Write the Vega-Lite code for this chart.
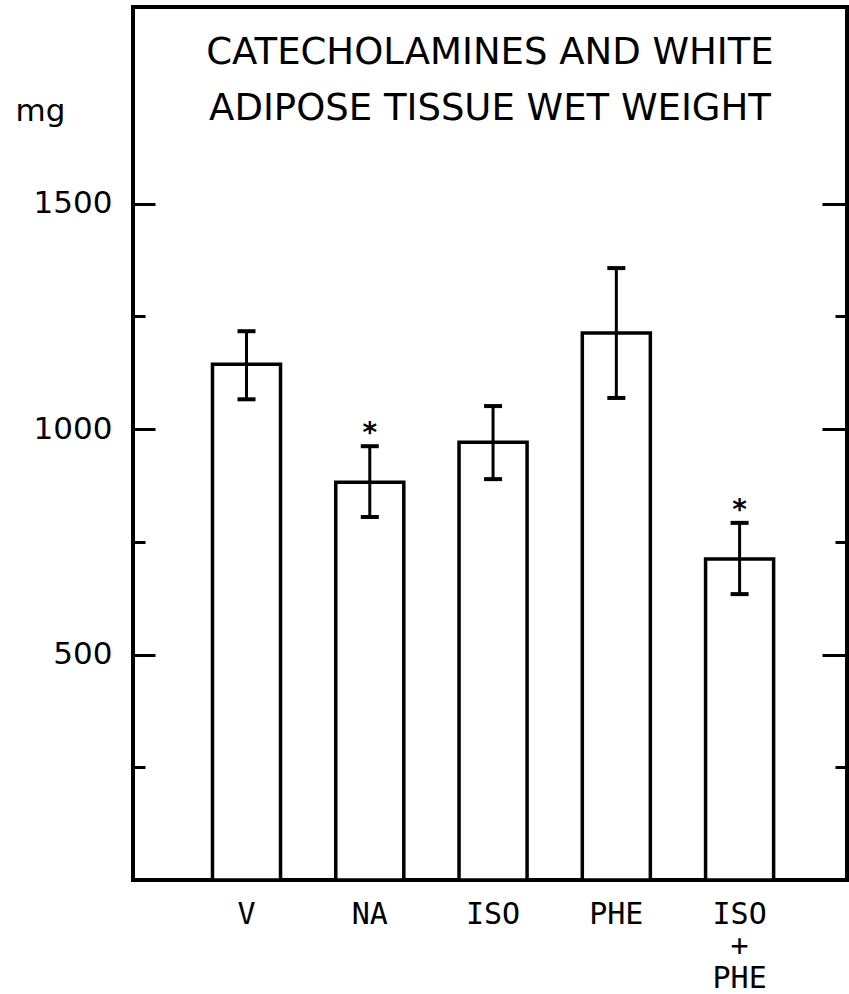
{
  "$schema": "https://vega.github.io/schema/vega-lite/v6.json",
  "width": 714,
  "height": 873,
  "autosize": {"type": "none"},
  "padding": {"left": 133, "top": 7, "right": 2, "bottom": 114},
  "background": "white",
  "config": {
    "view": {"stroke": "black", "strokeWidth": 4},
    "font": "DejaVu Sans",
    "axis": {"domain": false, "grid": false, "tickColor": "black", "labelColor": "black", "tickWidth": 3, "titleColor": "black"}
  },
  "title": {
    "text": ["CATECHOLAMINES AND WHITE", "ADIPOSE TISSUE WET WEIGHT"],
    "anchor": "middle",
    "frame": "group",
    "orient": "top",
    "offset": -121,
    "fontSize": 37,
    "fontWeight": "normal",
    "lineHeight": 56,
    "font": "DejaVu Sans",
    "color": "black"
  },
  "data": {
    "values": [
      {"group": "V", "mean": 1144, "lo": 1066, "hi": 1217, "star": false},
      {"group": "NA", "mean": 882, "lo": 805, "hi": 962, "star": true},
      {"group": "ISO", "mean": 971, "lo": 889, "hi": 1051, "star": false},
      {"group": "PHE", "mean": 1213, "lo": 1069, "hi": 1357, "star": false},
      {"group": "ISO+PHE", "mean": 712, "lo": 634, "hi": 792, "star": true}
    ]
  },
  "encoding": {
    "x": {
      "field": "group",
      "type": "nominal",
      "sort": null,
      "scale": {"paddingInner": 0.448, "paddingOuter": 0.62, "align": 0.52},
      "axis": {
        "orient": "bottom",
        "title": null,
        "ticks": false,
        "labelAngle": 0,
        "labelFont": "DejaVu Sans Mono",
        "labelFontSize": 30,
        "labelPadding": 19,
        "labelLineHeight": 32,
        "labelExpr": "datum.value == 'ISO+PHE' ? ['ISO', '+', 'PHE'] : datum.value"
      }
    }
  },
  "layer": [
    {
      "mark": {"type": "bar", "fill": "white", "stroke": "black", "strokeWidth": 3.5},
      "encoding": {
        "y": {
          "field": "mean",
          "type": "quantitative",
          "scale": {"domain": [0, 1936], "nice": false},
          "axis": {
            "orient": "left",
            "values": [500, 1000, 1500],
            "format": "d",
            "tickSize": -22,
            "labelFontSize": 31,
            "labelPadding": 43,
            "title": "mg",
            "titleAngle": 0,
            "titleX": -118,
            "titleY": 113,
            "titleAlign": "left",
            "titleBaseline": "alphabetic",
            "titleFontSize": 31,
            "titleFontWeight": "normal"
          }
        }
      }
    },
    {
      "mark": {"type": "rule", "strokeWidth": 3, "color": "black"},
      "encoding": {
        "y": {
          "field": "lo",
          "type": "quantitative",
          "axis": {"orient": "left", "values": [250, 750, 1250], "tickSize": -12, "labels": false, "title": null}
        },
        "y2": {"field": "hi"}
      }
    },
    {
      "mark": {"type": "tick", "thickness": 4, "size": 18, "color": "black", "opacity": 1},
      "encoding": {
        "y": {
          "field": "hi",
          "type": "quantitative",
          "axis": {"orient": "right", "values": [500, 1000, 1500], "tickSize": -25, "labels": false, "title": null}
        }
      }
    },
    {
      "mark": {"type": "tick", "thickness": 4, "size": 18, "color": "black", "opacity": 1},
      "encoding": {
        "y": {
          "field": "lo",
          "type": "quantitative",
          "axis": {"orient": "right", "values": [250, 750, 1250], "tickSize": -12, "labels": false, "title": null}
        }
      }
    },
    {
      "transform": [{"filter": "datum.star"}],
      "mark": {"type": "text", "text": "*", "fontSize": 28, "fontWeight": "bold", "baseline": "alphabetic", "dy": -4, "color": "black"},
      "encoding": {
        "y": {"field": "hi", "type": "quantitative", "axis": null}
      }
    }
  ],
  "resolve": {"axis": {"y": "independent"}}
}
